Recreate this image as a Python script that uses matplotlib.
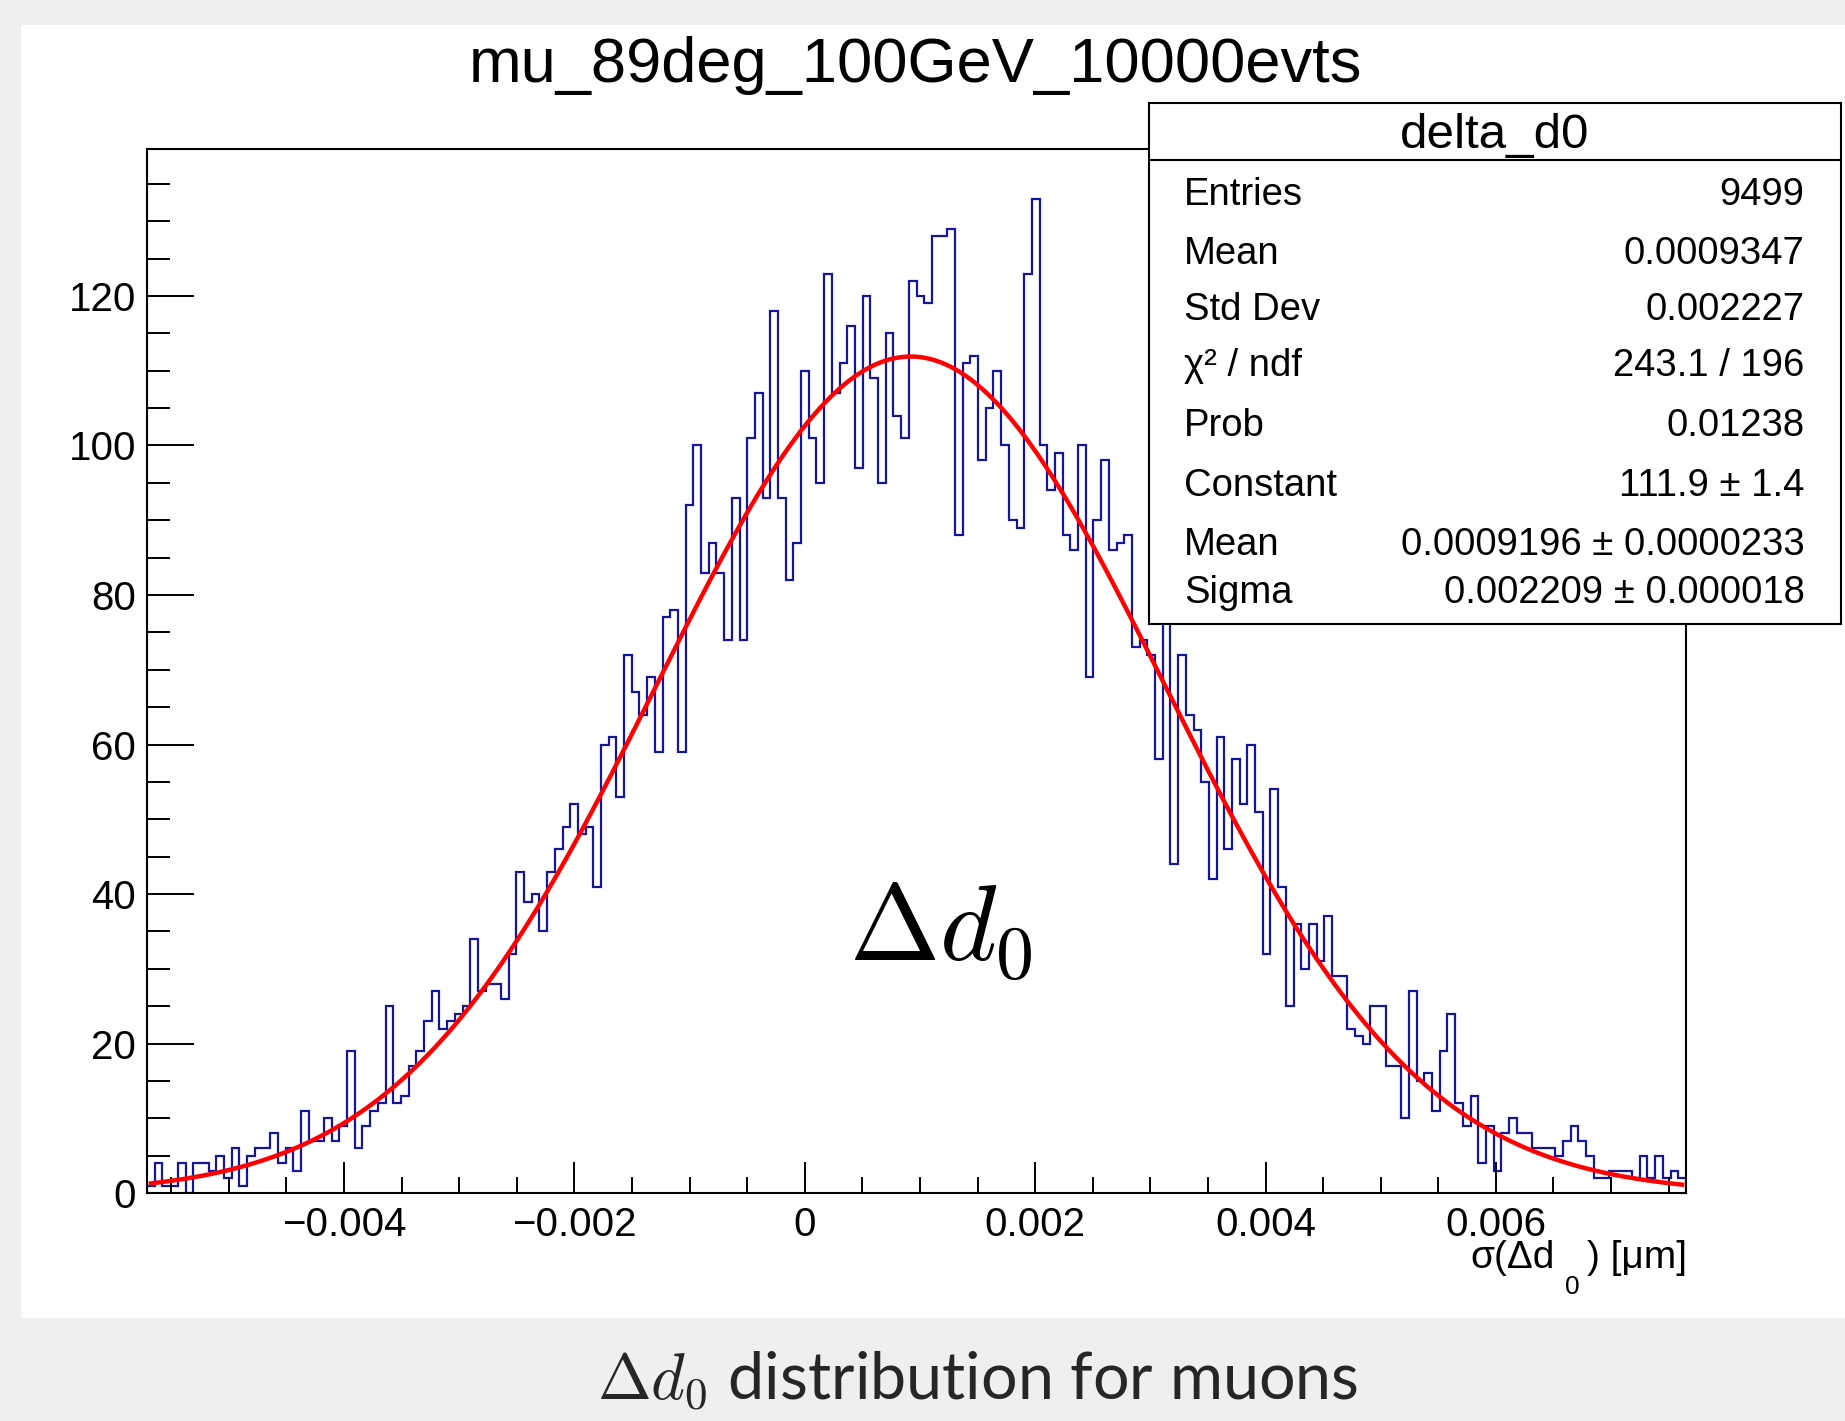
import numpy as np
import matplotlib.pyplot as plt
from matplotlib.patches import Rectangle
from matplotlib.ticker import MultipleLocator

# delta_d0 histogram, 200 bins
counts = [1, 4, 1, 1, 4, 0, 4, 4, 3, 5, 2, 6, 1, 5, 6, 6, 8, 4, 6, 3,
          11, 7, 7, 10, 7, 9, 19, 6, 9, 11, 12, 25, 12, 13, 17, 19, 23, 27, 22, 23,
          24, 25, 34, 27, 28, 28, 26, 32, 43, 39, 40, 35, 43, 46, 49, 52, 48, 49, 41, 60,
          61, 53, 72, 67, 64, 69, 59, 77, 78, 59, 92, 100, 83, 87, 83, 74, 93, 74, 101, 107,
          93, 118, 93, 82, 87, 110, 101, 95, 123, 107, 111, 116, 97, 120, 109, 95, 115, 104, 101, 122,
          120, 119, 128, 128, 129, 88, 111, 112, 98, 105, 110, 100, 90, 89, 123, 133, 100, 94, 99, 88,
          86, 100, 69, 90, 98, 86, 87, 88, 73, 74, 72, 58, 80, 44, 72, 64, 62, 55, 42, 61,
          46, 58, 52, 60, 51, 32, 54, 41, 25, 36, 30, 36, 31, 37, 29, 29, 22, 21, 20, 25,
          25, 17, 17, 10, 27, 15, 16, 11, 19, 24, 12, 9, 13, 4, 9, 3, 8, 10, 8, 8,
          6, 6, 6, 5, 7, 9, 7, 5, 2, 2, 3, 3, 3, 2, 5, 2, 5, 2, 3, 2]
x_low, x_high = -0.00571, 0.00765

# gaussian fit result
fit_constant = 111.9
fit_mean = 0.0009196
fit_sigma = 0.002209

title = "mu_89deg_100GeV_10000evts"
stat_title = "delta_d0"
stat_names = ["Entries", "Mean", "Std Dev", "χ² / ndf", "Prob",
              "Constant", "Mean", "Sigma"]
stat_values = ["9499", "0.0009347", "0.002227", "243.1 / 196", "0.01238",
               "111.9 ± 1.4", "0.0009196 ± 0.0000233", "0.002209 ± 0.000018"]

x_ticks = [-0.004, -0.002, 0, 0.002, 0.004, 0.006]
x_tick_labels = ["\u22120.004", "\u22120.002", "0", "0.002", "0.004", "0.006"]
y_ticks = [0, 20, 40, 60, 80, 100, 120]

plt.rcParams['font.family'] = ['Liberation Sans', 'DejaVu Sans']

fig = plt.figure(figsize=(18.45, 14.21), dpi=100)
fig.patch.set_facecolor('#efefef')
fig.add_artist(Rectangle((0.0114, 0.0725), 0.9886, 0.9099, transform=fig.transFigure,
                         facecolor='white', edgecolor='none', zorder=-1))

ax = fig.add_axes([0.0797, 0.1604, 0.8341, 0.7347])
edges = np.linspace(x_low, x_high, len(counts) + 1)
centers = 0.5 * (edges[:-1] + edges[1:])
ax.stairs(counts, edges, color='#15159c', lw=1.6)

xs = np.linspace(centers[0], centers[-1], 600)
ax.plot(xs, fit_constant * np.exp(-0.5 * ((xs - fit_mean) / fit_sigma) ** 2),
        color='#ff0000', lw=3.2)

ax.set_xlim(x_low, x_high)
ax.set_ylim(0, max(counts) * 1.05)
for s in ax.spines.values():
    s.set_linewidth(1.5)

ax.set_xticks(x_ticks)
ax.set_xticklabels(x_tick_labels)
ax.set_yticks(y_ticks)
ax.xaxis.set_minor_locator(MultipleLocator(0.0005))
ax.yaxis.set_minor_locator(MultipleLocator(5))
ax.tick_params(axis='both', which='both', direction='in', top=False, right=False,
               width=1.4, labelsize=29)
ax.tick_params(axis='x', which='major', length=22, pad=9)
ax.tick_params(axis='x', which='minor', length=11.5)
ax.tick_params(axis='y', which='major', length=34, pad=8)
ax.tick_params(axis='y', which='minor', length=16.5)

ax.text(0.00038, 31, r'$\Delta d_0$', fontsize=78, math_fontfamily='cm',
        ha='left', va='baseline')

# axis title, ROOT-style low subscript
fig.text(0.8425, 0.1075, "σ(Δd", fontsize=28, ha='right', va='baseline')
fig.text(0.852, 0.0894, "0", fontsize=19, ha='center', va='baseline')
fig.text(0.9142, 0.1075, ") [μm]", fontsize=28, ha='right', va='baseline')

fig.text(0.496, 0.942, title, fontsize=45.5, ha='center', va='baseline')

# statistics box
sb = fig.add_axes([0.6225, 0.5612, 0.3756, 0.366])
sb.set_xlim(0, 1)
sb.set_ylim(0, 1)
sb.set_xticks([])
sb.set_yticks([])
for s in sb.spines.values():
    s.set_linewidth(1.5)
sb.axhline(0.8906, color='black', lw=1.5)
sb.text(0.5, 0.9137, stat_title, fontsize=35.5, ha='center', va='baseline')
rows_y = [0.8045, 0.692, 0.5828, 0.4768, 0.3609, 0.245, 0.1325, 0.0398]
for name, value, y in zip(stat_names, stat_values, rows_y):
    sb.text(0.0512, y, name, fontsize=27.5, ha='left', va='baseline')
    sb.text(0.9468, y, value, fontsize=27.5, ha='right', va='baseline')

fig.text(0.530, 0.0148, r'$\Delta d_0$ distribution for muons', fontsize=46.5,
         family='Lato', math_fontfamily='cm', ha='center', va='baseline',
         color='#262626')

fig.savefig('out.png', dpi=100, facecolor=fig.get_facecolor())
